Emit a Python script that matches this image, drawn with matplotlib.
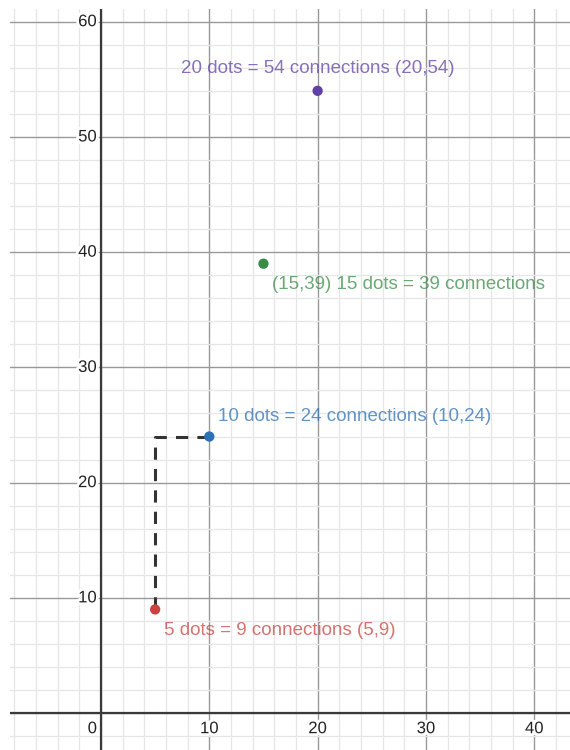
import matplotlib.pyplot as plt
import matplotlib.patheffects as pe
from matplotlib.ticker import MultipleLocator

# points (dots, connections)
dots = [5, 10, 15, 20]
connections = [9, 24, 39, 54]
colors = ['#c74440', '#2d70b3', '#388c46', '#6042a6']
labels = ['5 dots = 9 connections (5,9)',
          '10 dots = 24 connections (10,24)',
          '(15,39) 15 dots = 39 connections',
          '20 dots = 54 connections (20,54)']
# dashed path
path_x = [5, 5, 10]
path_y = [9, 24, 24]

plt.rcParams['font.family'] = ['Liberation Sans', 'DejaVu Sans']

fig = plt.figure(figsize=(5.7, 7.5), dpi=100)
ax = fig.add_axes([10 / 570, 0, 560 / 570, 741 / 750])
ax.set_xlim(-8.4, 43.3)
ax.set_ylim(-3.2, 61.1)

ax.xaxis.set_major_locator(MultipleLocator(10))
ax.yaxis.set_major_locator(MultipleLocator(10))
ax.xaxis.set_minor_locator(MultipleLocator(2))
ax.yaxis.set_minor_locator(MultipleLocator(2))
ax.grid(which='minor', color='#e6e6e6', linewidth=0.9)
ax.grid(which='major', color='#999999', linewidth=1.0)
ax.set_axisbelow(True)
ax.tick_params(which='both', length=0, labelbottom=False, labelleft=False)
for s in ax.spines.values():
    s.set_visible(False)

ax.axhline(0, color='#3a3a3a', linewidth=1.6, zorder=2)
ax.axvline(0, color='#3a3a3a', linewidth=1.6, zorder=2)

# tick labels along the axes, with white halo
halo = [pe.withStroke(linewidth=4, foreground='white')]
for v in range(10, 50, 10):
    ax.text(v, -0.7, str(v), ha='center', va='top', fontsize=12, color='#222222',
            path_effects=halo, zorder=3)
for v in range(10, 70, 10):
    ax.text(-0.4, v, str(v), ha='right', va='center', fontsize=12, color='#222222',
            path_effects=halo, zorder=3)
ax.text(-0.8, -0.7, '0', ha='center', va='top', fontsize=12, color='#222222',
        path_effects=halo, zorder=3)

ax.plot(path_x, path_y, color='#333333', linewidth=2.2, dashes=(4, 3), zorder=3)

ax.scatter(dots, connections, s=55, c=colors, zorder=4, edgecolors='none')

offsets = [(0.8, -1.8, 'left'), (0.8, 1.7, 'left'), (0.8, -1.8, 'left'), (0, 1.9, 'center')]
for x, y, c, t, (dx, dy, ha) in zip(dots, connections, colors, labels, offsets):
    ax.text(x + dx, y + dy, t, color=c, alpha=0.75, fontsize=13.5, ha=ha, va='center',
            zorder=5)

fig.savefig('out.png', dpi=100)
